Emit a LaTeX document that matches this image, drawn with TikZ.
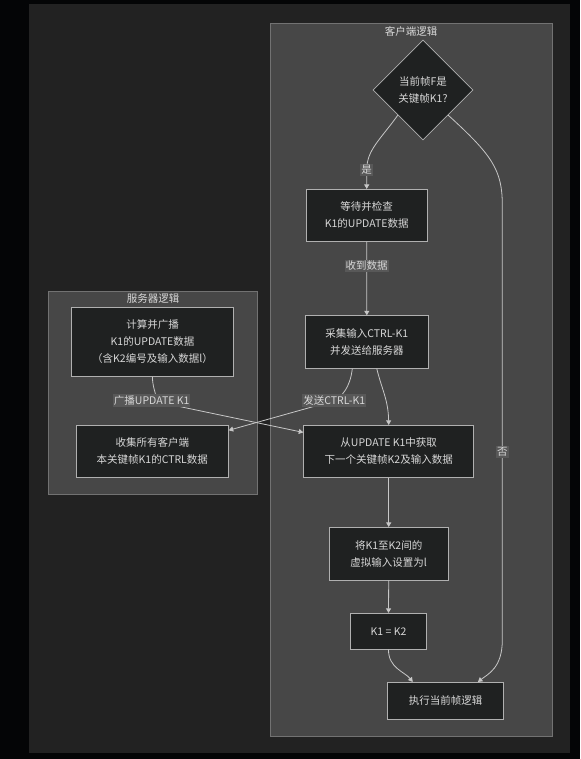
\documentclass[tikz,border=0pt]{standalone}
\usepackage{fontspec}
\setmainfont{Noto Sans CJK SC}
\usepackage{tikz}
\usetikzlibrary{shapes.geometric, arrows.meta}
\definecolor{pagebg}{HTML}{040506}
\definecolor{canvasbg}{HTML}{222222}
\definecolor{clusterfill}{HTML}{474747}
\definecolor{clusterline}{HTML}{727272}
\definecolor{boxfill}{HTML}{1F2121}
\definecolor{boxline}{HTML}{B0B0B0}
\definecolor{txtgray}{HTML}{D8D8D8}
\definecolor{edgegray}{HTML}{C8C8C8}
\definecolor{lblfill}{HTML}{585858}
\tikzstyle{arrow} = [line width=0.8pt,draw=edgegray,-{Triangle[width=5pt,length=4.5pt]}]
\tikzstyle{box} = [draw=boxline, fill=boxfill, line width=0.8pt, text=txtgray, align=center, inner sep=0pt, font=\fontsize{10.5}{17}\selectfont]
\tikzstyle{decision} = [box, diamond, minimum width=100pt, minimum height=100pt]
\tikzstyle{lbl} = [fill=lblfill, text=txtgray, inner xsep=1pt, inner ysep=1.5pt, font=\fontsize{10.5}{13}\selectfont]
\tikzstyle{cluster} = [draw=clusterline, fill=clusterfill, line width=0.8pt]
\tikzstyle{title} = [text=txtgray, inner sep=0pt, font=\fontsize{10.5}{13}\selectfont]

\begin{document}
\begin{tikzpicture}[x=1pt,y=-1pt]
  % Page and canvas
  \fill[pagebg] (0,0) rectangle (580,759);
  \useasboundingbox (0,0) rectangle (580,759);
  \fill[canvasbg] (29,4) rectangle (570,753);

  % Clusters
  \draw[cluster] (270,23) rectangle (552,736);
  \node[title] (clienttitle) at (411,31) {客户端逻辑};
  \draw[cluster] (48,291) rectangle (257,494);
  \node[title] (servertitle) at (153,299) {服务器逻辑};

  % Client nodes
  \node[decision] (dec) at (423,90) {当前帧F是\\关键帧K1?};
  \node[box, minimum width=121pt, minimum height=52pt] (wait) at (366.7,215.3) {等待并检查\\K1的UPDATE数据};
  \node[box, minimum width=123pt, minimum height=52.6pt] (collect) at (366.8,342) {采集输入CTRL-K1\\并发送给服务器};
  \node[box, minimum width=170pt, minimum height=52pt] (fetch) at (388.7,451.3) {从UPDATE K1中获取\\下一个关键帧K2及输入数据};
  \node[box, minimum width=119pt, minimum height=52.7pt] (setinput) at (388.7,553.7) {将K1至K2间的\\虚拟输入设置为l};
  \node[box, minimum width=76pt, minimum height=36pt] (assign) at (388.5,631.3) {K1 = K2};
  \node[box, minimum width=116pt, minimum height=36.7pt] (exec) at (445.5,700.7) {执行当前帧逻辑};

  % Server nodes
  \node[box, minimum width=162pt, minimum height=69pt] (bcast) at (152.5,342) {计算并广播\\K1的UPDATE数据\\（含K2编号及输入数据l）};
  \node[box, minimum width=152pt, minimum height=52pt] (gather) at (152.3,451.3) {收集所有客户端\\本关键帧K1的CTRL数据};

  % Client edges
  \draw[arrow] (dec.south west) .. controls (380,140) and (366.7,150) .. (366.7,170)
    node[lbl] {是} -- (wait.north);
  \draw[arrow] (wait.south) -- node[lbl, pos=0.33] {收到数据} (collect.north);
  \draw[arrow] ([xshift=10pt]collect.south) .. controls (382,390) and (388.3,400) .. (fetch.north);
  \draw[arrow] (fetch.south) -- (setinput.north);
  \draw[arrow] (setinput.south) -- (assign.north);
  \draw[arrow] (assign.south) .. controls (388.3,668) and (405,672) .. ([xshift=25.6pt]exec.north west);
  \draw[arrow] (dec.south east) .. controls (492,155) and (502.3,170) .. (502.3,205)
    -- node[lbl, pos=0.567] {否} (502.3,640)
    .. controls (502.3,668) and (488,674) .. ([xshift=-26pt]exec.north east);

  % Cross edges
  \draw[arrow] (bcast.south) .. controls (152.3,392) and (160,396) .. (151.7,400.7)
    node[lbl] {广播UPDATE K1} -- ([yshift=-7.5pt]fetch.north west);
  \draw[arrow] ([xshift=-14.5pt]collect.south) .. controls (350,388) and (342,396) .. (334.3,400.7)
    node[lbl] {发送CTRL-K1} -- ([yshift=-5.4pt]gather.north east);
\end{tikzpicture}
\end{document}
